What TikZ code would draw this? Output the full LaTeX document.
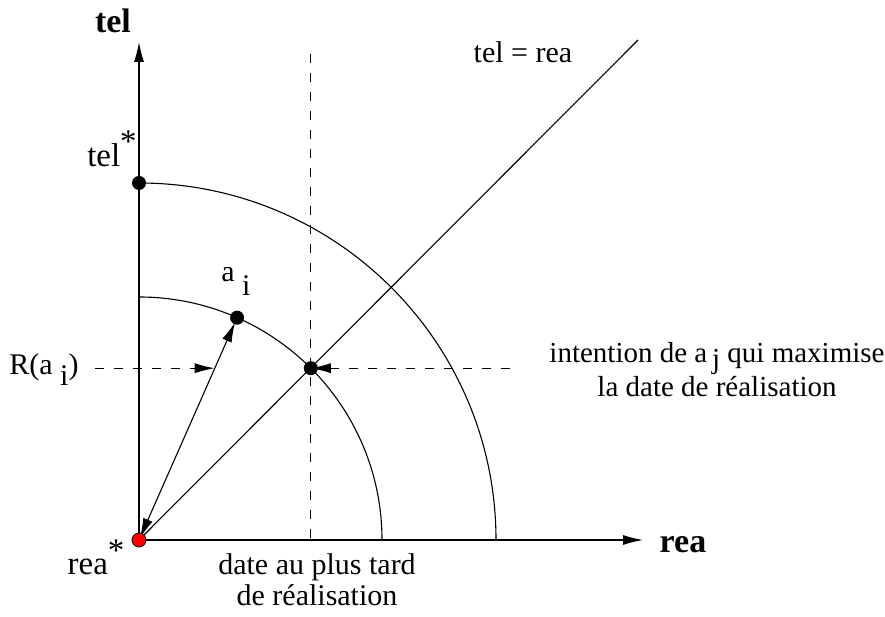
\documentclass[tikz,border=0pt]{standalone}
\usepackage{fontspec}
\setmainfont{Liberation Serif}
\usetikzlibrary{arrows.meta,calc}
\begin{document}
\begin{tikzpicture}[x=1pt,y=1pt,
  line width=1.1pt,
  tip/.style={-{Latex[length=20pt,width=10pt]}},
  dtip/.style={{Latex[length=20pt,width=10pt]}-{Latex[length=20pt,width=10pt]}},
  dsh/.style={dash pattern=on 9pt off 10pt},
  dot/.style={circle,fill=black,inner sep=0pt,minimum size=14pt},
  reddot/.style={circle,fill=red,draw=black,line width=0.8pt,inner sep=0pt,minimum size=14pt},
  txt/.style={font=\fontsize{30}{32}\selectfont,inner sep=0pt},
  btxt/.style={font=\fontsize{34}{36}\selectfont\bfseries,inner sep=0pt}]
\useasboundingbox (0,0) rectangle (885,617);
% coordinates
\coordinate (O) at (139,77);
\coordinate (ytip) at (139,575);
\coordinate (xtip) at (643,77);
\coordinate (T) at (139,434);
\coordinate (ai) at (237.1,299.3);
\coordinate (X) at (310.8,248.8);
\coordinate (diag) at (638,577);
\coordinate (vtop) at (310.8,563);
\coordinate (vbot) at (310.8,77);
\coordinate (lstart) at (95,248.8);
\coordinate (rp) at (214.7,248.8);
\coordinate (rstart) at (510,248.8);
% axes
\draw[tip] (O) -- (ytip);
\draw[tip] (O) -- (xtip);
% arcs
\draw (T) arc[start angle=90,end angle=0,radius=357];
\draw (139,320) arc[start angle=90,end angle=0,radius=243];
% diagonal
\draw (O) -- (diag);
% dashed lines
\draw[dsh] (vtop) -- (vbot);
\draw[dsh,tip] (lstart) -- (rp);
\draw[dsh,tip] (rstart) -- (X);
% double arrow
\draw[dtip,shorten <=2pt,shorten >=5pt] (O) -- (ai);
% dots
\node[dot] (nT) at (T) {};
\node[dot] (nai) at (ai) {};
\node[dot] (nX) at (X) {};
\node[reddot] (nO) at (O) {};
% labels
\node[btxt] (ltel) at (113,596) {tel};
\node[btxt] (lrea) at (683,72) {rea};
\node[txt,anchor=base,font=\fontsize{33}{36}\selectfont] (ltels) at (112,450) {tel\raisebox{0.45em}{*}};
\node[txt,anchor=base,font=\fontsize{33}{36}\selectfont] (lreas) at (96,42) {rea\raisebox{0.42em}{*}};
\node[txt,anchor=base] (lai) at (236,335) {a \raisebox{-0.45em}{i}};
\node[txt,anchor=base] (lR) at (44,242) {R(a \raisebox{-0.35em}{i})};
\node[txt,anchor=base] (leq) at (523,554) {tel = rea};
\node[txt,anchor=base,font=\fontsize{29}{32}\selectfont] (lint1) at (717,254) {intention de a\,\raisebox{-0.2em}{j} qui maximise};
\node[txt,anchor=base,font=\fontsize{29}{32}\selectfont] (lint2) at (717,220) {la date de réalisation};
\node[txt,anchor=base] (ldate1) at (317,42) {date au plus tard};
\node[txt,anchor=base] (ldate2) at (317,11) {de réalisation};
\end{tikzpicture}
\end{document}
